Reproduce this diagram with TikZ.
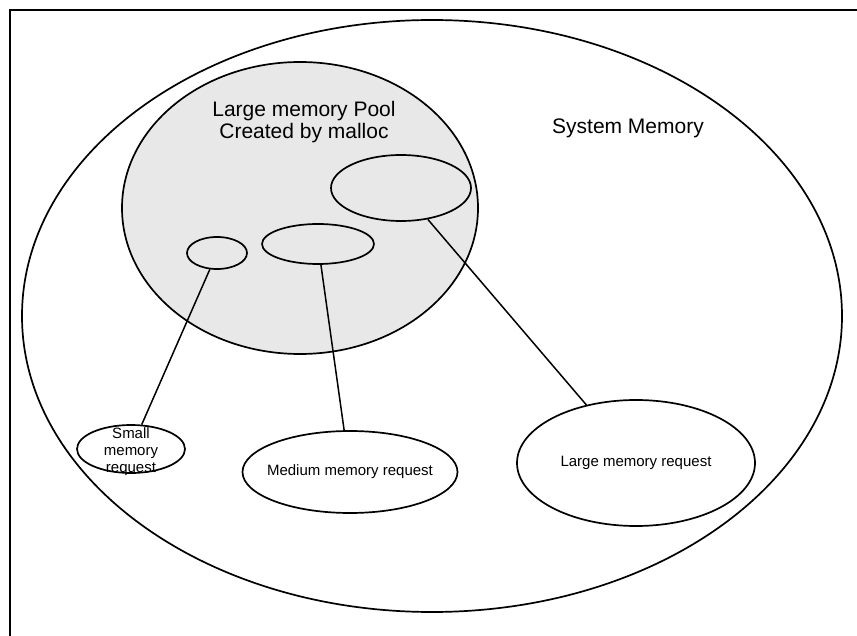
\documentclass[tikz,border=0pt]{standalone}
\usepackage{fontspec}
\setmainfont{Liberation Sans}
\usetikzlibrary{shapes,positioning}
\tikzset{
  blob/.style={draw, ellipse, line width=1.7pt, inner sep=0pt},
  link/.style={line width=1.5pt},
  pooltext/.style={font=\fontsize{21}{22}\selectfont, align=center},
  reqtext/.style={font=\fontsize{15}{17}\selectfont, align=center, inner sep=0pt},
}

\begin{document}
\begin{tikzpicture}[x=1pt,y=-1pt]
  \useasboundingbox (0,0) rectangle (857,636);
  % frame, only the top and left edges show
  \draw[line width=2.8pt] (857,10) -- (10,10) -- (10,636);
  % system memory
  \node[blob, minimum width=820pt, minimum height=592pt] (sysmem) at (432,316) {};
  \node[pooltext] (systitle) at (628,128) {System Memory};
  % the pool from malloc
  \node[blob, fill=gray!18, minimum width=356pt, minimum height=292pt] (pool) at (300,208) {};
  \node[pooltext] (pooltitle) at (304,122) {Large memory Pool\\Created by malloc};
  % pieces handed out of the pool
  \node[blob, minimum width=60pt, minimum height=32pt] (smallpart) at (217,253) {};
  \node[blob, minimum width=112pt, minimum height=40pt] (medpart) at (318,244) {};
  \node[blob, minimum width=140pt, minimum height=66pt] (largepart) at (401,188) {};
  % requests
  \node[blob, minimum width=108pt, minimum height=48pt] (smallreq) at (131,449) {};
  \node[reqtext] (smalltext) at ([yshift=-3pt]smallreq) {Small\\memory\\request};
  \node[blob, minimum width=215pt, minimum height=82pt] (medreq) at (350,472) {};
  \node[reqtext] (medtext) at (medreq) {Medium memory request};
  \node[blob, minimum width=238pt, minimum height=126pt] (largereq) at (636,463) {};
  \node[reqtext] (largetext) at (largereq) {Large memory request};
  % links
  \draw[link] (smallpart) -- (smallreq);
  \draw[link] (medpart) -- (medreq);
  \draw[link] (largepart) -- (largereq);
\end{tikzpicture}
\end{document}
